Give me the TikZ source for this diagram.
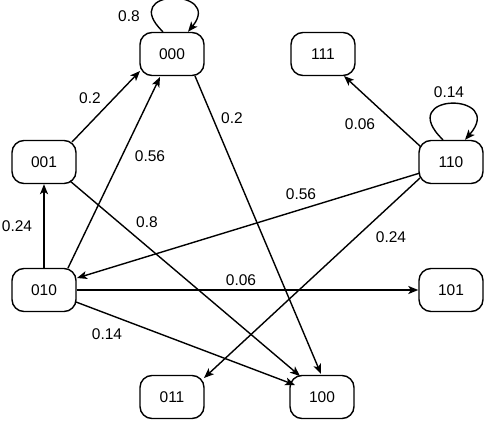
\documentclass[tikz,border=0pt]{standalone}
\usepackage{fontspec}
\setmainfont{Liberation Sans}
\usetikzlibrary{arrows.meta}
\begin{document}
\begin{tikzpicture}[x=1pt,y=1pt,
  state/.style={draw, line width=1.4pt, rectangle, rounded corners=12pt,
    minimum width=64pt, minimum height=43pt, inner sep=0pt,
    font=\fontsize{15.5}{18}\selectfont},
  edge/.style={line width=1.4pt, -{Stealth[length=10pt,width=8pt,inset=2.5pt]}},
  lbl/.style={font=\fontsize{15.5}{18}\selectfont, inner sep=0pt}]
\useasboundingbox (0,0) rectangle (487,424);
\node[state] (n000) at (172,370) {000};
\node[state] (n111) at (323,370) {111};
\node[state] (n001) at (44,262) {001};
\node[state] (n110) at (451,262) {110};
\node[state] (n010) at (44,134) {010};
\node[state] (n101) at (451,134) {101};
\node[state] (n011) at (172,27) {011};
\node[state] (n100) at (322,27) {100};
% self loops
\draw[edge] ([xshift=-9pt]n000.north) .. controls +(-46,44) and +(36,44) .. ([xshift=16pt]n000.north);
\draw[edge] ([xshift=-8pt]n110.north) .. controls +(-50,48) and +(42,48) .. ([xshift=14pt]n110.north);
% edges
\draw[edge] ([shift={(28,20)}]n001.center) -- ([shift={(-32,-17)}]n000.center);
\draw[edge] ([shift={(24,22)}]n010.center) -- ([shift={(-12,-23)}]n000.center);
\draw[edge] ([shift={(23,-22)}]n000.center) -- ([shift={(-1,23)}]n100.center);
\draw[edge] ([shift={(26,-19)}]n001.center) -- ([shift={(-22,21)}]n100.center);
\draw[edge] (n010.north) -- (n001.south);
\draw[edge] ([shift={(-30,15)}]n110.center) -- ([shift={(21,-22)}]n111.center);
\draw[edge] ([shift={(-31,-11)}]n110.center) -- ([shift={(33,12)}]n010.center);
\draw[edge] ([shift={(-31,-16)}]n110.center) -- ([shift={(32,19)}]n011.center);
\draw[edge] (n010.east) -- (n101.west);
\draw[edge] ([shift={(32,-12)}]n010.center) -- ([shift={(-27,12)}]n100.center);
% labels
\node[lbl] (l1) at (129,407.5) {0.8};
\node[lbl] (l2) at (90,326) {0.2};
\node[lbl] (l3) at (150,268) {0.56};
\node[lbl] (l4) at (232,306) {0.2};
\node[lbl] (l5) at (147,202) {0.8};
\node[lbl] (l6) at (17,198) {0.24};
\node[lbl] (l7) at (360,300) {0.06};
\node[lbl] (l8) at (449,332) {0.14};
\node[lbl] (l9) at (301,230) {0.56};
\node[lbl] (l10) at (391,187) {0.24};
\node[lbl] (l11) at (241,144) {0.06};
\node[lbl] (l12) at (107,90) {0.14};
\end{tikzpicture}
\end{document}
